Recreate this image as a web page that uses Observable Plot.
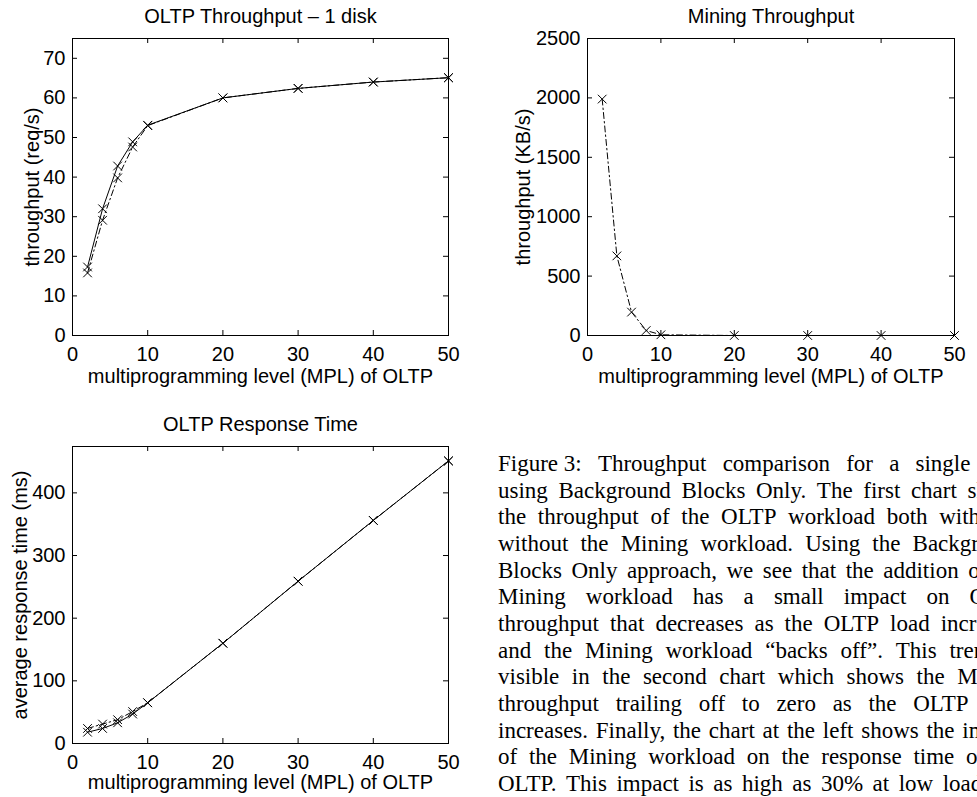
<!DOCTYPE html>
<html><head><meta charset="utf-8">
<script src="https://cdn.jsdelivr.net/npm/d3@7"></script>
<script src="https://cdn.jsdelivr.net/npm/@observablehq/plot@0.6"></script>
<style>
html,body{margin:0;padding:0;background:#fff;overflow:hidden;width:977px;height:797px;}
#root{position:relative;width:977px;height:797px;overflow:hidden;}
.panel{position:absolute;}
#caption{position:absolute;left:498px;top:451px;width:527px;font-family:"Liberation Serif","Times New Roman",serif;font-size:23px;line-height:26.67px;color:#000;}
.line{display:flex;justify-content:space-between;white-space:nowrap;}
</style></head><body><div id="root"></div>
<script>
// ---- data ----
const mpl = [2, 4, 6, 8, 10, 20, 30, 40, 50];
const oltpAlone = [17.3, 32.0, 42.8, 48.9, 53.1, 60.0, 62.4, 64.0, 65.1];
const oltpWithMining = [15.8, 29.1, 39.8, 47.6, 53.0, 60.0, 62.4, 64.0, 65.1];
const miningThroughput = [1990, 670, 197, 42, 6, 0, 0, 0, 0];
const respAlone = [18, 24, 33, 47, 65, 160, 259, 356, 451];
const respWithMining = [24, 31, 38, 51, 65, 160, 259, 356, 451];

const xTicks = [0, 10, 20, 30, 40, 50];
const oltpTicks = [0, 10, 20, 30, 40, 50, 60, 70];
const miningTicks = [0, 500, 1000, 1500, 2000, 2500];
const respTicks = [0, 100, 200, 300, 400];

const titles = ["OLTP Throughput \u2013 1 disk", "Mining Throughput", "OLTP Response Time"];
const yLabels = ["throughput (req/s)", "throughput (KB/s)", "average response time (ms)"];
const xLabel = "multiprogramming level (MPL) of OLTP";

const captionLines = [
  "Figure\u00a03: Throughput comparison for a single disk",
  "using Background Blocks Only. The first chart shows",
  "the throughput of the OLTP workload both with and",
  "without the Mining workload. Using the Background",
  "Blocks Only approach, we see that the addition of the",
  "Mining workload has a small impact on OLTP",
  "throughput that decreases as the OLTP load increases",
  "and the Mining workload \u201cbacks off\u201d. This trend is",
  "visible in the second chart which shows the Mining",
  "throughput trailing off to zero as the OLTP load",
  "increases. Finally, the chart at the left shows the impact",
  "of the Mining workload on the response time of the",
  "OLTP. This impact is as high as 30% at low load and"
];

const rows = (ys) => mpl.map((x, i) => ({x, y: ys[i]}));
const DASHDOT = "6,3,1.5,3";

function panel(cfg) {
  const {left, top, width, height, m, yDomain, yTicks, series, title, ylabel, titleDy, xlabelDy, ylabelDx} = cfg;
  const fw = width - m.left - m.right, fh = height - m.top - m.bottom;
  const marks = [
    Plot.frame({stroke: "black", strokeWidth: 1}),
    Plot.tickX(xTicks, {x: d => d, stroke: "black", insetTop: fh - 5}),
    Plot.tickX(xTicks, {x: d => d, stroke: "black", insetBottom: fh - 5}),
    Plot.tickY(yTicks, {y: d => d, stroke: "black", insetRight: fw - 5}),
    Plot.tickY(yTicks, {y: d => d, stroke: "black", insetLeft: fw - 5}),
    Plot.text(xTicks, {x: d => d, text: d => String(d), frameAnchor: "bottom", textAnchor: "middle", lineAnchor: "top", dy: 11}),
    Plot.text(yTicks, {y: d => d, text: d => String(d), frameAnchor: "left", textAnchor: "end", lineAnchor: "middle", dx: -7}),
    Plot.text([title], {text: d => d, frameAnchor: "top", textAnchor: "middle", lineAnchor: "middle", dy: titleDy}),
    Plot.text([xLabel], {text: d => d, frameAnchor: "bottom", textAnchor: "middle", lineAnchor: "middle", dy: xlabelDy}),
    Plot.text([ylabel], {text: d => d, frameAnchor: "left", textAnchor: "middle", lineAnchor: "middle", rotate: -90, dx: ylabelDx})
  ];
  for (const s of series) {
    const data = rows(s.values);
    marks.push(Plot.line(data, {x: "x", y: "y", stroke: "black", strokeWidth: 1, strokeDasharray: s.dash}));
    marks.push(Plot.dot(data, {x: "x", y: "y", symbol: "times", r: 4, stroke: "black", strokeWidth: 1}));
  }
  const svg = Plot.plot({
    width, height,
    marginLeft: m.left, marginRight: m.right, marginTop: m.top, marginBottom: m.bottom,
    x: {domain: [0, 50], axis: null},
    y: {domain: yDomain, axis: null},
    style: {fontFamily: "'Liberation Sans', Arial, Helvetica, sans-serif", fontSize: "20px", color: "black", background: "white", overflow: "visible"},
    marks
  });
  const wrap = document.createElement("div");
  wrap.className = "panel";
  wrap.style.left = left + "px";
  wrap.style.top = top + "px";
  wrap.appendChild(svg);
  document.getElementById("root").appendChild(wrap);
}

panel({left: 0, top: 0, width: 490, height: 390, m: {left: 72, right: 42, top: 38, bottom: 55},
  yDomain: [0, 75], yTicks: oltpTicks, title: titles[0], ylabel: yLabels[0],
  titleDy: -21.7, xlabelDy: 41.3, ylabelDx: -39.5,
  series: [{values: oltpAlone, dash: null}, {values: oltpWithMining, dash: DASHDOT}]});

panel({left: 490, top: 0, width: 487, height: 390, m: {left: 97, right: 23, top: 38, bottom: 55},
  yDomain: [0, 2500], yTicks: miningTicks, title: titles[1], ylabel: yLabels[1],
  titleDy: -21.7, xlabelDy: 41.3, ylabelDx: -63.5,
  series: [{values: miningThroughput, dash: DASHDOT}]});

panel({left: 0, top: 390, width: 490, height: 407, m: {left: 72, right: 42, top: 56, bottom: 54},
  yDomain: [0, 474], yTicks: respTicks, title: titles[2], ylabel: yLabels[2],
  titleDy: -22.4, xlabelDy: 39.2, ylabelDx: -52,
  series: [{values: respAlone, dash: null}, {values: respWithMining, dash: DASHDOT}]});

const cap = document.createElement("div");
cap.id = "caption";
for (const ln of captionLines) {
  const d = document.createElement("div");
  d.className = "line";
  for (const w of ln.split(" ")) {
    const s = document.createElement("span");
    s.textContent = w;
    d.appendChild(s);
  }
  cap.appendChild(d);
}
document.getElementById("root").appendChild(cap);
</script>
</body></html>
